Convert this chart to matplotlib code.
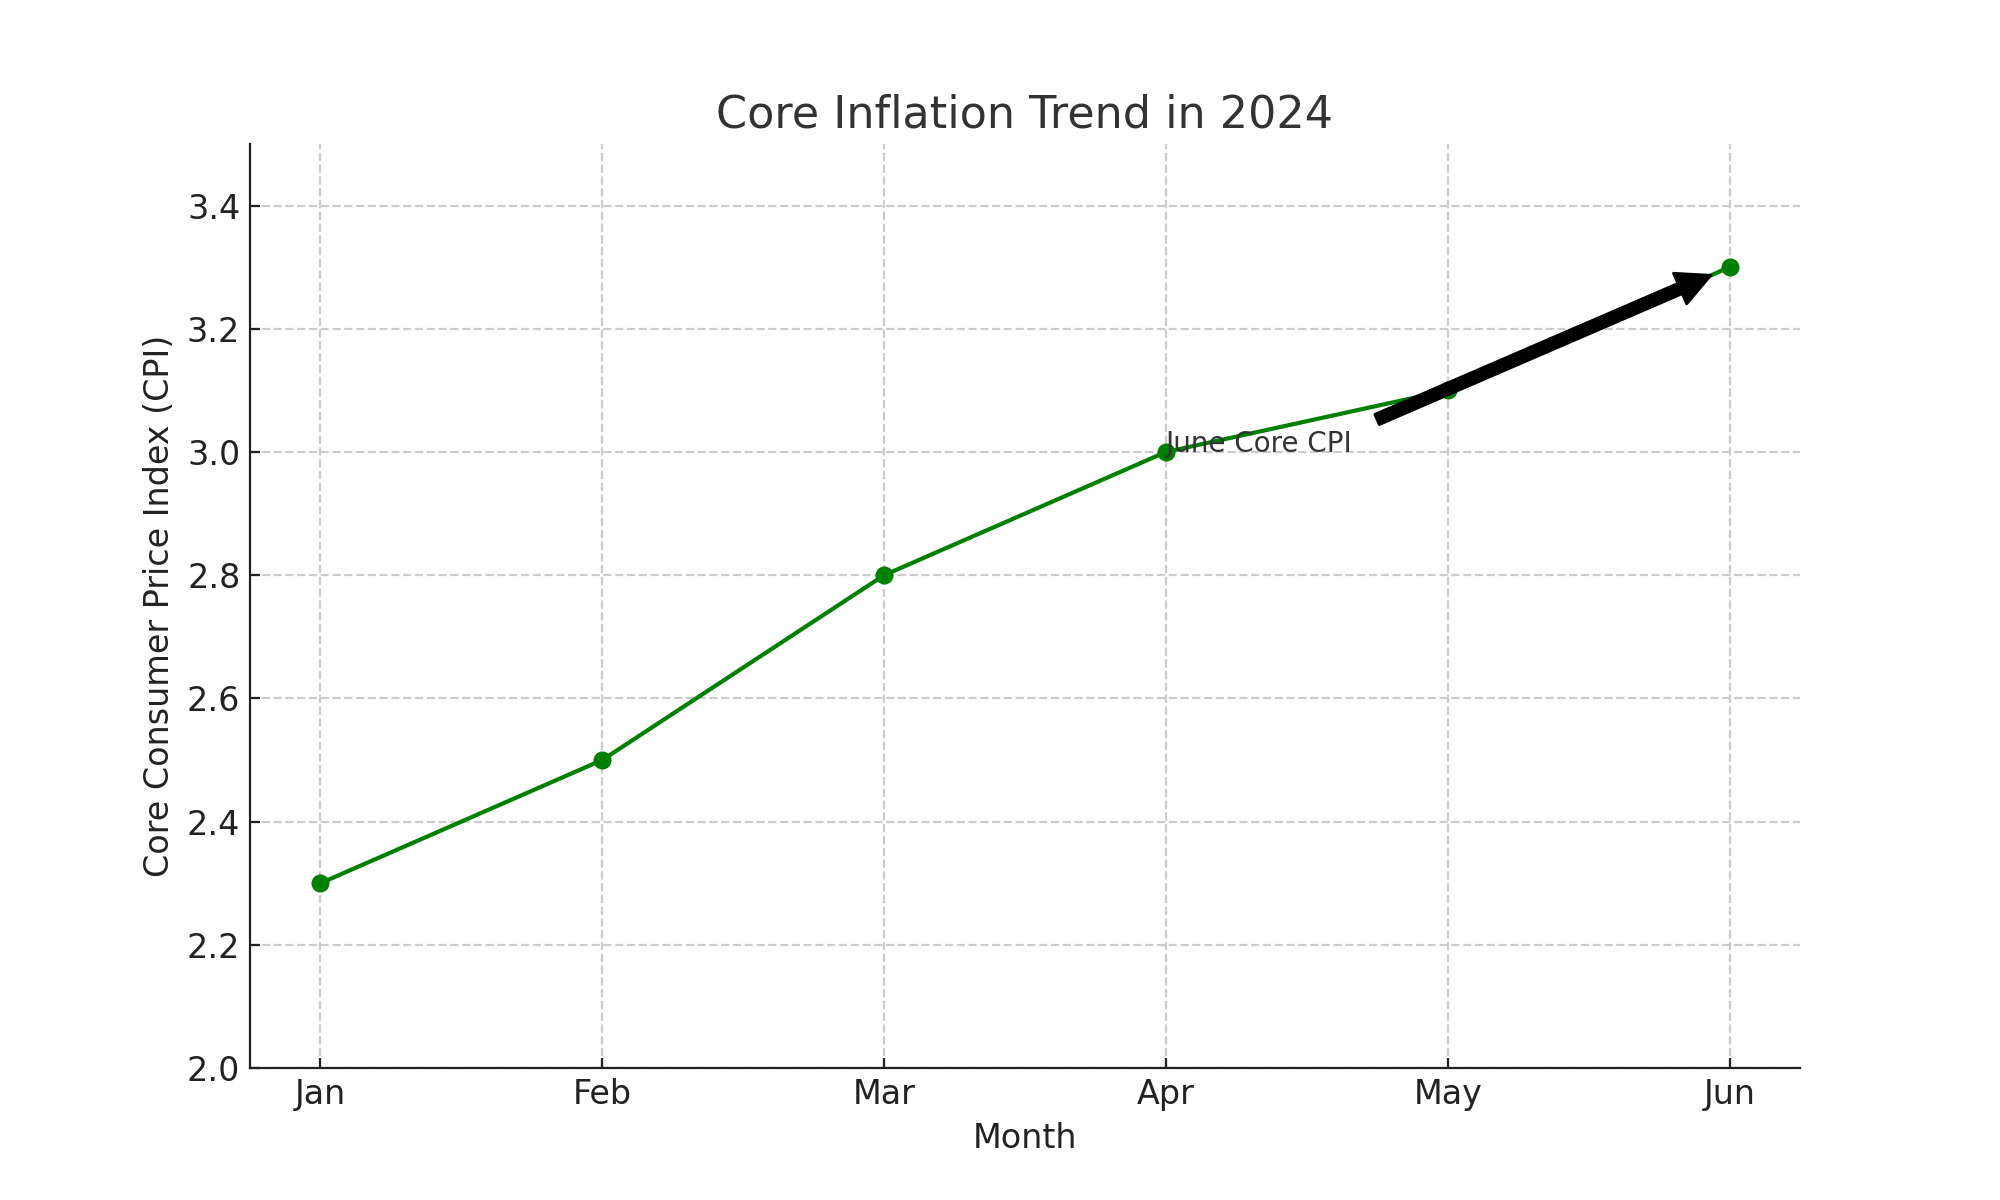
import matplotlib
matplotlib.use("Agg")
import matplotlib.pyplot as plt

months = ['Jan', 'Feb', 'Mar', 'Apr', 'May', 'Jun']
core_cpi = [2.3, 2.5, 2.8, 3.0, 3.1, 3.3]

fig, ax = plt.subplots(figsize=(10, 6), dpi=200)

x = list(range(len(months)))
ax.plot(x, core_cpi, marker='o', color='green', linewidth=1.5, markersize=5.5)

# annotation: text at April, arrow pointing at June
ax.annotate('June Core CPI', xy=(x[-1], core_cpi[-1]), xytext=(x[3], core_cpi[3]),
            arrowprops=dict(facecolor='black', shrink=0.05), color='#333333', fontsize=10)

ax.set_title('Core Inflation Trend in 2024', fontsize=16, color='#333333')
ax.set_xlabel('Month', fontsize=12, color='#222222')
ax.set_ylabel('Core Consumer Price Index (CPI)', fontsize=12, color='#222222')

ax.set_xticks(x)
ax.set_xticklabels(months)
ax.set_ylim(2.0, 3.5)
ax.set_yticks([2.0, 2.2, 2.4, 2.6, 2.8, 3.0, 3.2, 3.4])
ax.tick_params(direction='in', labelsize=12, colors='#222222')

ax.grid(True, linestyle='--', color='#cccccc', linewidth=0.8)
ax.spines['top'].set_visible(False)
ax.spines['right'].set_visible(False)
ax.spines['left'].set_color('#222222')
ax.spines['bottom'].set_color('#222222')

plt.savefig('out.png', dpi=200)
